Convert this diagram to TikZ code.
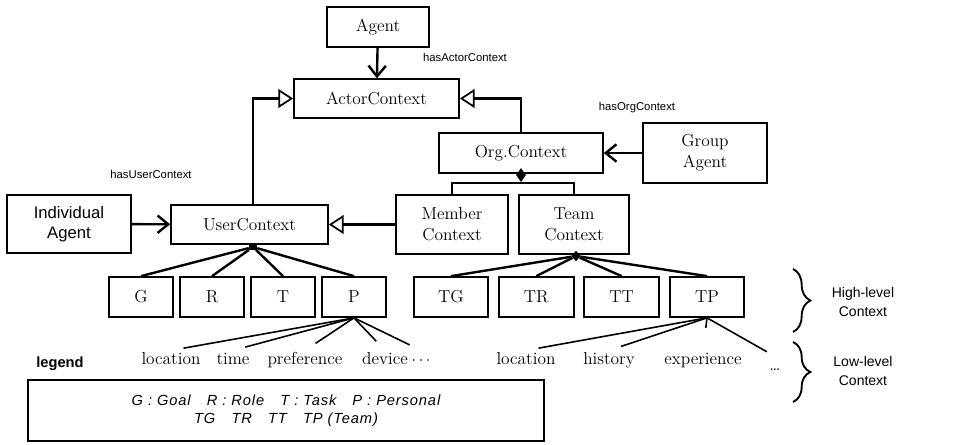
\documentclass[tikz,border=0pt]{standalone}
\usepackage{fontspec}
\setsansfont{Liberation Sans}
\usetikzlibrary{
	arrows.meta,
	positioning,
	shapes.geometric,
	decorations.pathreplacing
}
\tikzset{
	box/.style={
		draw,line width=1.3pt,align=center,inner sep=0pt,
		font=\fontsize{13}{15.5}\selectfont
	},
	cbox/.style={box,minimum width=48pt,minimum height=30pt},
	tbox/.style={box,minimum width=56pt,minimum height=30pt},
	leaf/.style={inner sep=1pt,text height=9pt,text depth=3pt,
		font=\fontsize{13}{15}\selectfont},
	role/.style={font=\sffamily\fontsize{8.5}{10}\selectfont},
	level/.style={align=center,font=\sffamily\fontsize{10.5}{14.5}\selectfont},
	assoc/.style={line width=1.8pt,-{Straight Barb[length=8pt,width=13pt]}},
	gen/.style={line width=1.8pt,-{Triangle[open,length=11pt,width=14pt,fill=white,line width=1.3pt]}},
	part/.style={line width=1.8pt},
	attr/.style={line width=1.2pt},
	whole/.style={diamond,fill,inner sep=0pt},
	group/.style={decorate,decoration={brace,amplitude=13pt},line width=1.4pt}
}

\begin{document}
\begin{tikzpicture}[x=0.75pt,y=-0.75pt]
	\useasboundingbox (0,0) rectangle (956,445);
	\draw
		node [box,minimum width=76.5pt,minimum height=30pt]   (agent)  at (378,27)      {Agent}
		node [box,minimum width=123.75pt,minimum height=29pt] (actor)  at (376.5,98.5)  {ActorContext}
		node [box,minimum width=123pt,minimum height=30pt]    (org)    at (521,153)     {Org.Context}
		node [box,minimum width=93pt,minimum height=45pt]     (ga)     at (705,153)     {Group\\Agent}
		node [box,minimum width=93pt,minimum height=43.5pt,
			font=\sffamily\fontsize{12.5}{15}\selectfont]      (ia)     at (69,224)      {Individual\\Agent}
		node [box,minimum width=117.75pt,minimum height=29pt] (user)   at (249.5,224.5) {UserContext}
		node [box,minimum width=84pt,minimum height=44.25pt]  (member) at (452,224.5)   {Member\\Context}
		node [box,minimum width=82.5pt,minimum height=44.25pt] (team)  at (574,224.5)   {Team\\Context}

		node [cbox]                         (g)  at (141,297) {G}
		node [cbox,node distance=53.25pt,right of=g]  (r)  {R}
		node [cbox,node distance=53.25pt,right of=r]  (t)  {T}
		node [cbox,node distance=53.25pt,right of=t]  (p)  {P}
		node [tbox]                         (tg) at (451,297) {TG}
		node [tbox,node distance=64pt,right of=tg]    (tr) {TR}
		node [tbox,node distance=64pt,right of=tr]    (tt) {TT}
		node [tbox,node distance=64pt,right of=tt]    (tp) {TP}

		node [leaf] (loc)   at (171,360) {location}
		node [leaf] (time)  at (233,360) {time}
		node [leaf] (pref)  at (305,360) {preference}
		node [leaf] (dev)   at (385,360) {device}
		node [leaf] (more)  at (421,360) {$\cdots$}
		node [leaf] (tloc)  at (526,360) {location}
		node [leaf] (hist)  at (609,360) {history}
		node [leaf] (exp)   at (703,360) {experience}
		node [leaf] (tmore) at (775,366) {\dots}

		node [role] (hac) at (465,57)  {hasActorContext}
		node [role] (hoc) at (637,108) {hasOrgContext}
		node [role] (huc) at (151,174) {hasUserContext}

		node [level] (high) at (863,302) {High-level\\Context}
		node [level] (low)  at (863,371) {Low-level\\Context}

		node [font=\sffamily\bfseries\fontsize{11}{13}\selectfont] (leg) at (60,364) {legend}
		node [draw,line width=1.3pt,minimum width=387pt,minimum height=45.75pt,align=center,
			font=\sffamily\itshape\fontsize{11}{13.5}\selectfont\addfontfeature{LetterSpace=6}]
			(legbox) at (286,410.5)
			{G : Goal\hspace{1.1em}R : Role\hspace{1.1em}T : Task\hspace{1.1em}P : Personal\\
			 TG\hspace{1.1em}TR\hspace{1.1em}TT\hspace{1.1em}TP (Team)}

		node [whole,minimum width=7.5pt,minimum height=10.5pt] (orgw)  at (521,175) {}
		node [fill,inner sep=0pt,minimum width=6pt,minimum height=4pt] (userw) at (253,247) {}
		node [whole,minimum width=7pt,minimum height=8pt] (teamw) at (576,256) {}

		(agent) edge [assoc] (actor)
		(ia)    edge [assoc] (user)
		(ga)    edge [assoc] (org)
		(member) edge [gen]  (user)
	;
	\draw [gen] (user.north -| userw) |- (actor);
	\draw [gen] (org) |- (actor);

	\coordinate (bar) at (521,183);
	\draw [part] (orgw) -- (bar);
	\draw [part] (member) |- (bar) -| (team);

	\foreach \c in {g,r,t,p}
		\draw [part] (userw) -- (\c.north);
	\foreach \c in {tg,tr,tt,tp}
		\draw [part] (teamw) -- (\c.north);

	\foreach \c in {loc,time,pref,dev,more}
		\draw [attr,shorten >=9.5pt] (p.south) -- (\c.north);
	\draw [attr,shorten >=9.5pt] (tp.south) -- (tloc.north);
	\draw [attr,shorten >=9.5pt] (tp.south) -- (hist.north);
	\draw [attr,shorten >=17pt]  (tp.south) -- (exp.north);
	\draw [attr,shorten >=7pt]   (tp.south) -- (tmore.north);

	\draw [group] (793,269) -- (793,332);
	\draw [group] (793,342) -- (793,402);
\end{tikzpicture}
\end{document}
